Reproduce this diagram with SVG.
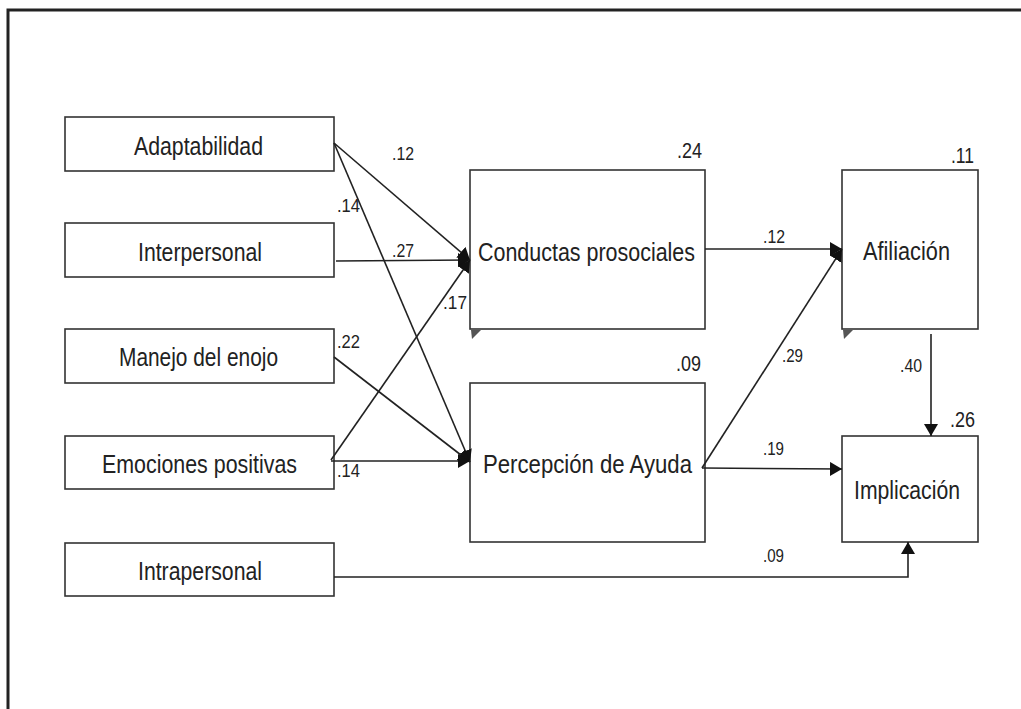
<svg xmlns="http://www.w3.org/2000/svg" width="1021" height="709" viewBox="0 0 1021 709">
<style>
.box{fill:#fff;stroke:#333;stroke-width:1.6}
.lbl{font-family:"Liberation Sans",Arial,sans-serif;font-size:25px;fill:#222;text-anchor:middle}
.num{font-family:"Liberation Sans",Arial,sans-serif;font-size:19px;fill:#222}
.r2{font-family:"Liberation Sans",Arial,sans-serif;font-size:22px;fill:#222}
.con{fill:none;stroke:#222;stroke-width:1.6}
.tri{fill:#555}
</style>
<defs>
<marker id="ah" markerUnits="userSpaceOnUse" markerWidth="14" markerHeight="14" refX="12" refY="7" orient="auto">
<path d="M0,0 L12,7 L0,14 z" fill="#111"/>
</marker>
</defs>
<rect x="0" y="0" width="1021" height="709" fill="#fff"/>
<path d="M8,709 V10 H1021" fill="none" stroke="#222" stroke-width="3"/>

<g id="n-adaptabilidad"><rect class="box" x="65" y="117" width="269" height="54"/><text class="lbl" x="198.5" y="155" textLength="129" lengthAdjust="spacingAndGlyphs">Adaptabilidad</text></g>
<g id="n-interpersonal"><rect class="box" x="65" y="223" width="269" height="54"/><text class="lbl" x="200" y="261" textLength="124" lengthAdjust="spacingAndGlyphs">Interpersonal</text></g>
<g id="n-manejo"><rect class="box" x="65" y="329" width="269" height="54"/><text class="lbl" x="198.5" y="366" textLength="159" lengthAdjust="spacingAndGlyphs">Manejo del enojo</text></g>
<g id="n-emociones"><rect class="box" x="65" y="436" width="269" height="53"/><text class="lbl" x="199.5" y="473" textLength="195" lengthAdjust="spacingAndGlyphs">Emociones positivas</text></g>
<g id="n-intrapersonal"><rect class="box" x="65" y="543" width="269" height="53"/><text class="lbl" x="200" y="580" textLength="124" lengthAdjust="spacingAndGlyphs">Intrapersonal</text></g>

<g id="n-conductas"><rect class="box" x="470" y="170" width="235" height="159"/><polygon class="tri" points="471,330 481,330 472,339"/><text class="lbl" x="586.5" y="261" textLength="217" lengthAdjust="spacingAndGlyphs">Conductas prosociales</text><text class="r2" x="702" y="158" text-anchor="end" textLength="25" lengthAdjust="spacingAndGlyphs">.24</text></g>
<g id="n-percepcion"><rect class="box" x="470" y="383" width="235" height="159"/><text class="lbl" x="587.5" y="473" textLength="209" lengthAdjust="spacingAndGlyphs">Percepción de Ayuda</text><text class="r2" x="701" y="371" text-anchor="end" textLength="25" lengthAdjust="spacingAndGlyphs">.09</text></g>
<g id="n-afiliacion"><rect class="box" x="842" y="170" width="136" height="159"/><polygon class="tri" points="843,330 853,330 844,339"/><text class="lbl" x="906.5" y="260" textLength="87" lengthAdjust="spacingAndGlyphs">Afiliación</text><text class="r2" x="974" y="163" text-anchor="end" textLength="23" lengthAdjust="spacingAndGlyphs">.11</text></g>
<g id="n-implicacion"><rect class="box" x="842" y="436" width="136" height="106"/><text class="lbl" x="907" y="499" textLength="106" lengthAdjust="spacingAndGlyphs">Implicación</text><text class="r2" x="975" y="427" text-anchor="end" textLength="25" lengthAdjust="spacingAndGlyphs">.26</text></g>

<g id="connectors">
<line class="con" x1="334" y1="143" x2="470" y2="260" marker-end="url(#ah)"/>
<line class="con" x1="334" y1="143" x2="470" y2="462" marker-end="url(#ah)"/>
<line class="con" x1="336" y1="261" x2="470" y2="260" marker-end="url(#ah)"/>
<line class="con" x1="334" y1="357" x2="470" y2="462" marker-end="url(#ah)"/>
<line class="con" x1="331" y1="460" x2="470" y2="260" marker-end="url(#ah)"/>
<line class="con" x1="331" y1="461" x2="470" y2="461" marker-end="url(#ah)"/>
<line class="con" x1="705" y1="249" x2="842" y2="249" marker-end="url(#ah)"/>
<line class="con" x1="702" y1="468" x2="842" y2="249" marker-end="url(#ah)"/>
<line class="con" x1="702" y1="468" x2="842" y2="469" marker-end="url(#ah)"/>
<line class="con" x1="931" y1="334" x2="931" y2="436" marker-end="url(#ah)"/>
<polyline class="con" points="334,577 908,577 908,542" marker-end="url(#ah)"/>
<text class="num" x="392" y="160" textLength="22" lengthAdjust="spacingAndGlyphs">.12</text>
<text class="num" x="337" y="212" textLength="23" lengthAdjust="spacingAndGlyphs">.14</text>
<text class="num" x="392" y="257" textLength="22" lengthAdjust="spacingAndGlyphs">.27</text>
<text class="num" x="443" y="309" textLength="24" lengthAdjust="spacingAndGlyphs">.17</text>
<text class="num" x="337" y="348" textLength="23" lengthAdjust="spacingAndGlyphs">.22</text>
<text class="num" x="337" y="477" textLength="23" lengthAdjust="spacingAndGlyphs">.14</text>
<text class="num" x="763" y="243" textLength="22" lengthAdjust="spacingAndGlyphs">.12</text>
<text class="num" x="782" y="362" textLength="21" lengthAdjust="spacingAndGlyphs">.29</text>
<text class="num" x="900" y="372" textLength="22" lengthAdjust="spacingAndGlyphs">.40</text>
<text class="num" x="763" y="455" textLength="21" lengthAdjust="spacingAndGlyphs">.19</text>
<text class="num" x="763" y="562" textLength="21" lengthAdjust="spacingAndGlyphs">.09</text>
</g>
</svg>
